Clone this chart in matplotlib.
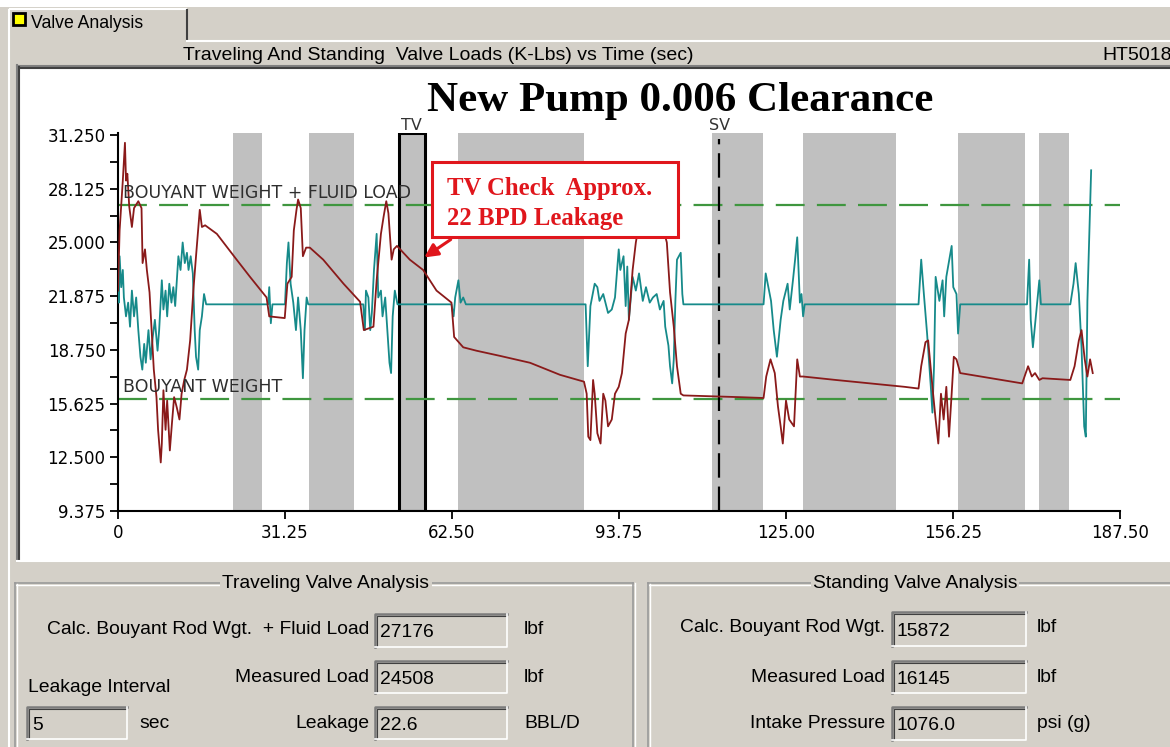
import matplotlib
matplotlib.use("Agg")
import matplotlib.pyplot as plt
from matplotlib.patches import Rectangle, FancyArrowPatch
from matplotlib.ticker import FixedLocator

# ---------------- data ----------------
red_t = [0, 0.3, 0.9, 1.3, 1.5, 1.75, 2.1, 2.6, 3.0, 3.8,
         4.4, 4.6, 5.05, 5.4, 5.9, 6.3, 6.7, 7.2, 7.5, 8.0,
         8.2, 8.5, 8.9, 9.2, 9.7, 10.1, 10.5, 11.0, 11.5, 11.9,
         12.4, 12.9, 13.5, 14.1, 14.6, 15.0, 15.3, 15.7, 16.3, 18.5,
         22.2, 24.7, 27.8, 28.3, 31.2, 31.7, 32.5, 32.9, 33.4, 33.7,
         34.2, 34.6, 35.2, 35.9, 38.4, 42.2, 45.3, 46.0, 47.8, 48.4,
         49.2, 49.7, 50.2, 50.6, 51.2, 51.6, 52.2, 54.6, 57.1, 59.6,
         62.4, 62.9, 64.6, 67.1, 71.5, 77.1, 82.7, 87.2, 87.7, 88.0,
         88.4, 88.9, 89.2, 89.7, 90.3, 90.8, 91.2, 91.7, 92.4, 93.0,
         93.7, 94.3, 95.0, 95.6, 96.3, 96.9, 97.4, 98.0, 101.5, 102.7,
         103.3, 104.0, 104.6, 105.3, 105.8, 116.3, 120.8, 121.3, 122.1, 122.9,
         123.5, 124.0, 124.4, 125.0, 125.6, 126.5, 127.1, 127.6, 128.2, 134.3,
         140.8, 147.2, 149.8, 150.3, 151.1, 151.6, 152.4, 153.0, 153.5, 154.0,
         154.5, 155.0, 155.5, 156.0, 156.4, 156.9, 157.6, 163.4, 169.2, 170.3,
         171.0, 171.6, 172.4, 173.0, 178.2, 179.0, 179.8, 180.3, 180.9, 181.4,
         181.9, 182.4]
red_load = [22.2, 25.7, 28.6, 30.8, 28.6, 29.0, 27.1, 25.9, 27.0, 27.4,
            27.0, 23.8, 24.6, 23.4, 22.1, 19.9, 17.6, 16.0, 14.1, 12.2,
            13.3, 16.4, 14.1, 15.8, 12.9, 14.5, 16.0, 15.4, 14.7, 16.2,
            17.0, 17.6, 19.3, 22.2, 24.2, 25.7, 26.9, 25.9, 26.0, 25.5,
            24.0, 23.0, 21.8, 20.7, 20.6, 22.6, 23.0, 25.7, 26.9, 27.5,
            27.0, 24.2, 24.7, 24.7, 24.0, 22.6, 21.55, 19.9, 20.1, 22.8,
            25.5, 26.5, 27.4, 26.7, 24.0, 24.6, 24.8, 24.0, 23.4, 22.2,
            21.5, 19.5, 18.9, 18.7, 18.4, 18.0, 17.3, 16.9, 16.2, 13.7,
            13.5, 17.0, 16.2, 13.9, 13.3, 16.2, 15.8, 14.3, 14.7, 16.2,
            16.6, 17.4, 19.7, 20.5, 23.4, 25.0, 25.9, 26.6, 26.4, 25.0,
            22.1, 20.1, 17.8, 16.2, 16.1, 16.0, 15.95, 17.2, 18.2, 17.4,
            15.45, 14.3, 13.3, 15.8, 14.7, 14.3, 18.2, 17.2, 17.2, 17.0,
            16.8, 16.6, 16.5, 17.8, 19.2, 19.3, 16.6, 14.7, 13.3, 16.2,
            14.7, 16.6, 13.7, 16.2, 18.35, 18.2, 17.4, 17.1, 16.8, 17.8,
            17.2, 17.4, 17.0, 17.1, 17.0, 17.8, 19.3, 19.9, 18.2, 17.2,
            18.2, 17.4]

teal_t = [0, 0.15, 0.3, 0.6, 0.9, 1.1, 1.5, 1.9, 2.25, 2.6,
          3.0, 3.4, 3.8, 4.2, 4.55, 4.9, 5.2, 5.7, 6.1, 6.5,
          6.9, 7.4, 7.7, 8.2, 8.5, 8.9, 9.2, 9.6, 10.0, 10.35,
          10.7, 11.3, 11.7, 12.1, 12.5, 12.9, 13.2, 13.6, 14.0, 14.35,
          14.6, 15.0, 15.3, 15.7, 16.1, 16.5,
          28.1, 28.3, 28.6, 28.9, 31.25, 31.6, 31.9, 32.3, 32.8, 33.3, 33.7, 34.2, 34.6, 34.9, 35.3, 35.6,
          45.9, 46.2, 46.4, 46.85, 47.2, 47.5, 47.9, 48.4, 48.7, 49.2, 49.5, 50.0, 50.4, 50.8, 51.1, 51.4, 51.8, 52.3,
          62.4, 62.8, 63.1, 63.7, 64.1, 64.6, 65.1,
          87.5, 87.9, 88.4, 89.2, 89.7, 90.1, 90.8, 91.7, 92.4, 93.0,
          93.7, 94.0, 94.6, 95.0, 95.3, 95.6, 96.3, 96.9, 97.5, 98.2,
          98.8, 99.5, 100.1, 100.8, 101.4, 102.1, 102.4, 103.0, 103.3, 103.7,
          104.0, 104.3, 104.6, 105.3, 105.6, 105.8,
          120.8, 121.2, 121.7, 122.2, 122.7, 123.3, 124.0, 124.5, 125.3, 125.7, 126.3, 126.7, 127.1, 127.6, 127.9, 128.2, 128.5,
          149.8, 150.3, 150.8, 151.4, 152.1, 152.4, 152.7, 153.0, 153.7, 154.3, 154.6, 155.0, 156.0, 156.3, 156.9, 157.2, 157.6,
          170.1, 170.5, 170.8, 171.2, 171.7, 172.4, 172.7,
          178.2, 178.8, 179.2, 179.8, 180.3, 180.8, 181.1, 181.4, 182.1]
teal_load = [23.8, 21.5, 24.2, 22.4, 23.4, 21.8, 20.7, 21.5, 20.1, 22.2,
             20.7, 21.8, 19.9, 18.35, 17.6, 19.1, 18.0, 19.9, 18.2, 19.5,
             20.5, 18.7, 19.9, 22.8, 21.1, 22.2, 20.7, 22.6, 21.5, 22.4,
             21.3, 24.2, 23.4, 25.0, 23.8, 24.4, 23.4, 24.2, 23.2, 19.9,
             18.35, 17.6, 19.9, 20.7, 22.0, 21.4,
             21.4, 22.4, 20.3, 21.4, 21.4, 23.8, 25.0, 22.6, 21.5, 19.9, 21.8, 19.9, 17.1, 19.9, 21.8, 21.4,
             21.4, 19.9, 22.2, 21.8, 19.9, 20.9, 23.4, 25.5, 21.8, 22.2, 20.7, 21.8, 19.9, 18.0, 17.4, 20.7, 22.2, 21.4,
             21.4, 20.7, 21.8, 22.8, 21.5, 21.8, 21.4,
             21.4, 17.8, 21.3, 22.6, 22.4, 21.6, 22.0, 20.9, 21.1, 21.8,
             24.6, 23.4, 24.2, 21.3, 23.6, 20.5, 23.0, 22.2, 23.2, 21.6,
             22.4, 21.5, 21.8, 22.0, 21.1, 21.6, 20.1, 19.0, 17.8, 16.8,
             18.2, 21.6, 24.0, 24.4, 22.0, 21.4,
             21.4, 23.2, 22.4, 21.6, 19.9, 18.35, 20.5, 21.6, 22.6, 21.1, 22.8, 24.0, 25.3, 21.5, 22.0, 20.7, 21.4,
             21.4, 24.0, 22.0, 19.7, 16.6, 15.1, 17.8, 23.0, 21.6, 22.8, 20.7, 23.0, 24.8, 22.4, 22.0, 19.7, 21.4,
             21.4, 24.0, 20.5, 18.9, 20.5, 22.8, 21.4,
             21.4, 22.6, 23.8, 22.0, 18.9, 14.3, 13.7, 21.6, 29.2]

grey_bands = [(21.5, 26.9), (35.7, 44.2), (63.6, 87.2), (111.1, 120.7),
              (128.2, 145.6), (157.2, 169.7), (172.3, 178.0)]
tv_band = (52.6, 57.4)
sv_time = 112.5
fluid_load_level = 27.176
buoyant_level = 15.872

x_ticks = [0, 31.25, 62.5, 93.75, 125.0, 156.25, 187.5]
x_labels = ["0", "31.25", "62.50", "93.75", "125.00", "156.25", "187.50"]
y_ticks = [9.375, 12.5, 15.625, 18.75, 21.875, 25.0, 28.125, 31.25]
y_labels = ["9.375", "12.500", "15.625", "18.750", "21.875", "25.000", "28.125", "31.250"]

tv_fields = [("Calc. Bouyant Rod Wgt.  + Fluid Load", "27176", "lbf"),
             ("Measured Load", "24508", "lbf"),
             ("Leakage", "22.6", "BBL/D")]
sv_fields = [("Calc. Bouyant Rod Wgt.", "15872", "lbf"),
             ("Measured Load", "16145", "lbf"),
             ("Intake Pressure", "1076.0", "psi (g)")]
leak_interval = "5"

# ---------------- figure ----------------
W, H = 1170, 747
BG = "#d4d0c8"
UIF = "Liberation Sans"
UIS = 13.9

fig = plt.figure(figsize=(W / 100, H / 100), dpi=100, facecolor=BG)
ui = fig.add_axes([0, 0, 1, 1], zorder=0)
ui.set_xlim(0, W)
ui.set_ylim(H, 0)
ui.axis("off")

# top white strip
ui.add_patch(Rectangle((0, 0), W, 7, fc="white", ec="none"))

# tab
ui.add_patch(Rectangle((9, 9), 178, 32, fc=BG, ec="none"))
ui.plot([9, 9], [H, 10], color="white", lw=1.5)
ui.plot([10, 186], [9, 9], color="white", lw=1.5)
ui.plot([187, 187], [10, 40], color="#404040", lw=1.5)
ui.plot([187, W], [41, 41], color="white", lw=1.5)
ui.add_patch(Rectangle((13, 13), 12, 12, fc="#ffff00", ec="black", lw=2))
ui.text(31, 24, "Valve Analysis", fontfamily=UIF, fontsize=12.7, va="center", ha="left")

# header
ui.text(183, 55, "Traveling And Standing  Valve Loads (K-Lbs) vs Time (sec)",
        fontfamily=UIF, fontsize=14, va="center", ha="left")
ui.text(1102, 55, "HT5018", fontfamily=UIF, fontsize=14, va="center", ha="left")

# plot panel
ui.add_patch(Rectangle((18, 66), W - 18, 494, fc="white", ec="none"))
ui.plot([17, W], [65.5, 65.5], color="#808080", lw=1.5)
ui.plot([19, W], [67.5, 67.5], color="#404040", lw=1.5)
ui.plot([17, 17], [65, 561], color="#808080", lw=1.5)
ui.plot([19, 19], [67, 559], color="#404040", lw=1.5)
ui.plot([17, W], [561, 561], color="white", lw=1.5)


def group_box(x0, x1, y0, title, cx):
    ui.plot([x0, x1], [y0, y0], color="#9a9a9a", lw=1.2)
    ui.plot([x0 + 1, x1], [y0 + 1.5, y0 + 1.5], color="white", lw=1.0)
    ui.plot([x0, x0], [y0, H], color="#9a9a9a", lw=1.2)
    ui.plot([x0 + 1.5, x0 + 1.5], [y0 + 1, H], color="white", lw=1.0)
    if x1 < W:
        ui.plot([x1, x1], [y0, H], color="#9a9a9a", lw=1.2)
        ui.plot([x1 + 1.5, x1 + 1.5], [y0, H], color="white", lw=1.0)
    ui.text(cx, y0 + 1, title, fontfamily=UIF, fontsize=UIS, ha="center", va="center",
            bbox=dict(fc=BG, ec="none", pad=1.5))


def field(x0, x1, y0, y1, value):
    ui.add_patch(Rectangle((x0, y0), x1 - x0, y1 - y0, fc=BG, ec="none"))
    ui.plot([x0, x0, x1], [y1, y0, y0], color="#7c7c7c", lw=1.8)
    ui.plot([x0 + 1.5, x0 + 1.5, x1 - 1], [y1 - 1, y0 + 1.5, y0 + 1.5], color="#404040", lw=0.8)
    ui.plot([x0, x1, x1], [y1, y1, y0], color="white", lw=1.2)
    ui.text(x0 + 5, (y0 + y1) / 2 + 2, value, fontfamily=UIF, fontsize=UIS, ha="left", va="center")


group_box(15, 633, 583, "Traveling Valve Analysis", 326)
group_box(648, W + 5, 583, "Standing Valve Analysis", 915)

tv_rows_y = [(614, 647), (661, 693), (707, 739)]
tv_label_y = [630, 677, 723]
for (lab, val, unit), (ya, yb), ly in zip(tv_fields, tv_rows_y, tv_label_y):
    ui.text(369, ly, lab, fontfamily=UIF, fontsize=UIS, ha="right", va="center")
    field(375, 507, ya, yb, val)
    ui.text(524, ly, unit, fontfamily=UIF, fontsize=UIS, ha="left", va="center")

ui.text(28, 688, "Leakage Interval", fontfamily=UIF, fontsize=UIS, ha="left", va="center")
field(27, 127, 707, 739, leak_interval)
ui.text(139, 723, "sec", fontfamily=UIF, fontsize=UIS, ha="left", va="center")

sv_rows_y = [(612, 646), (661, 693), (707, 740)]
sv_label_y = [628, 677, 723]
for (lab, val, unit), (ya, yb), ly in zip(sv_fields, sv_rows_y, sv_label_y):
    ui.text(885, ly, lab, fontfamily=UIF, fontsize=UIS, ha="right", va="center")
    field(892, 1026, ya, yb, val)
    ui.text(1037, ly, unit, fontfamily=UIF, fontsize=UIS, ha="left", va="center")

# ---------------- chart ----------------
ax = fig.add_axes([118 / W, (H - 511) / H, 1002 / W, 378 / H], zorder=1)
ax.set_facecolor("none")
ax.set_xlim(0, 187.5)
ax.set_ylim(9.375, 31.37)

for a, b in grey_bands:
    ax.axvspan(a, b, facecolor="#c0c0c0", edgecolor="none", zorder=1)
ax.axvspan(tv_band[0], tv_band[1], facecolor="#c0c0c0", edgecolor="black", lw=2.2, zorder=1.5)

dash_green = (0, (13, 5.5))
ax.axhline(fluid_load_level, color="#3f963f", lw=1.6, ls=dash_green, zorder=2)
ax.axhline(buoyant_level, color="#3f963f", lw=1.6, ls=dash_green, zorder=2)
ax.plot([sv_time, sv_time], [9.375, 31.0], color="black", lw=1.6, ls=(0, (11, 4)), zorder=2.5)

ax.plot(teal_t, teal_load, color="#168a8a", lw=1.3, zorder=3)
ax.plot(red_t, red_load, color="#8a1a1a", lw=1.3, zorder=3.2)

lab_kw = dict(fontfamily="DejaVu Sans", fontsize=12.5, color="#2e2e2e", va="center", ha="left", zorder=4)
ax.text(1.0, 27.9, "BOUYANT WEIGHT + FLUID LOAD", **lab_kw)
ax.text(1.0, 16.6, "BOUYANT WEIGHT", **lab_kw)
ax.text(sum(tv_band) / 2, 31.82, "TV", fontfamily="DejaVu Sans", fontsize=11.5, color="#333333",
        ha="center", va="center", clip_on=False)
ax.text(sv_time, 31.82, "SV", fontfamily="DejaVu Sans", fontsize=11.5, color="#333333",
        ha="center", va="center", clip_on=False)

for s in ("top", "right"):
    ax.spines[s].set_visible(False)
for s in ("left", "bottom"):
    ax.spines[s].set_linewidth(1.5)
ax.set_xticks(x_ticks)
ax.set_xticklabels(x_labels)
ax.set_yticks(y_ticks)
ax.set_yticklabels(y_labels)
ax.yaxis.set_minor_locator(FixedLocator([v + 1.5625 for v in y_ticks[:-1]]))
ax.tick_params(axis="both", which="both", direction="out", length=6, width=1.3,
               labelsize=12, pad=3)
for lbl in ax.get_xticklabels() + ax.get_yticklabels():
    lbl.set_fontfamily("DejaVu Sans")

# ---------------- overlay ----------------
ov = fig.add_axes([0, 0, 1, 1], zorder=2)
ov.set_xlim(0, W)
ov.set_ylim(H, 0)
ov.axis("off")
ov.patch.set_alpha(0)

ov.text(680, 111, "New Pump 0.006 Clearance", fontfamily="Liberation Serif",
        fontweight="bold", fontsize=31, ha="center", va="baseline")

ov.add_patch(Rectangle((432, 162), 246, 75, fc="white", ec="#e0161c", lw=2.2))
ov.text(447, 195, "TV Check  Approx.", fontfamily="Liberation Serif", fontweight="bold",
        fontsize=17.8, color="#e0161c", ha="left", va="baseline")
ov.text(447, 225, "22 BPD Leakage", fontfamily="Liberation Serif", fontweight="bold",
        fontsize=17.8, color="#e0161c", ha="left", va="baseline")
ov.add_patch(FancyArrowPatch((453, 238), (422, 259), arrowstyle="-|>,head_length=8,head_width=4",
                             color="#e0161c", lw=2.2, mutation_scale=1))

fig.savefig("out.png", dpi=100, facecolor=BG)
